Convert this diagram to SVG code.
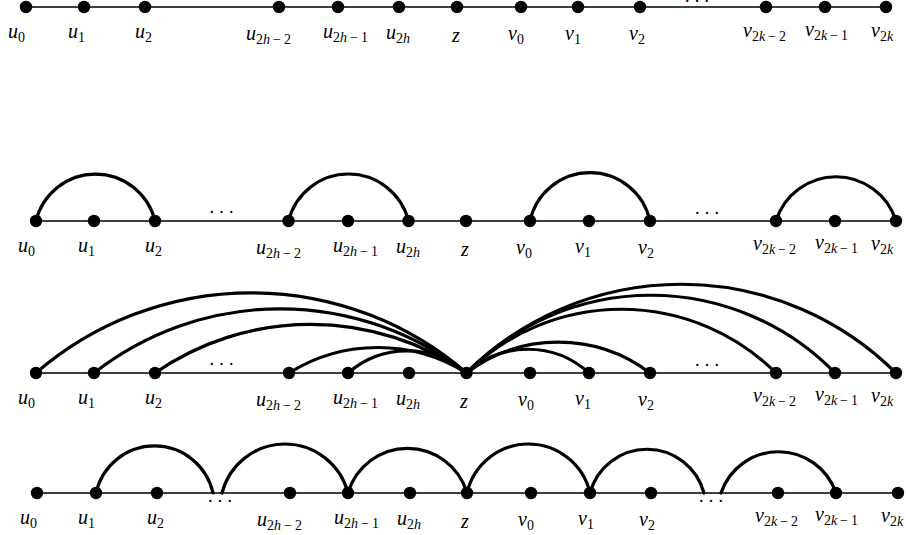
<svg xmlns="http://www.w3.org/2000/svg" width="906" height="535" viewBox="0 0 906 535">
<style>
.base{stroke:#000;stroke-width:1.6;fill:none}
.arc{stroke:#000;stroke-width:3.2;fill:none;stroke-linecap:round}
circle{fill:#000}
.l{font-family:"Liberation Serif",serif;font-size:20px;font-style:italic;fill:#000}
.s{font-size:14px;font-style:normal}
.si{font-size:14px;font-style:italic}
.d{font-family:"Liberation Serif",serif;font-size:18px;letter-spacing:5.2px;fill:#000}
</style>
<rect width="906" height="535" fill="#fff"/>
<g id="connectors">
<line class="base" x1="26" y1="7" x2="886" y2="7"/>
<line class="base" x1="36" y1="221" x2="896" y2="221"/>
<line class="base" x1="36" y1="373" x2="896" y2="373"/>
<line class="base" x1="37" y1="493" x2="898" y2="493"/>
<path class="arc" d="M36 221 A61.2 61.2 0 0 1 155 221"/>
<path class="arc" d="M288.5 221 A61.8 61.8 0 0 1 408.5 221"/>
<path class="arc" d="M530 221 A61.4 61.4 0 0 1 650 221"/>
<path class="arc" d="M776 221 A62.8 62.8 0 0 1 896 221"/>
<path class="arc" d="M36 373 A328.9 328.9 0 0 1 466.5 373"/>
<path class="arc" d="M94 373 A302.3 302.3 0 0 1 466.5 373"/>
<path class="arc" d="M155 373 A273.5 273.5 0 0 1 466.5 373"/>
<path class="arc" d="M289 373 A167.2 167.2 0 0 1 466.5 373"/>
<path class="arc" d="M348 373 A90.1 90.1 0 0 1 466.5 373"/>
<path class="arc" d="M466.5 373 A90.8 90.8 0 0 1 589 373"/>
<path class="arc" d="M466.5 373 A152 152 0 0 1 650 373"/>
<path class="arc" d="M466.5 373 A219.7 219.7 0 0 1 776 373"/>
<path class="arc" d="M466.5 373 A257.2 257.2 0 0 1 835 373"/>
<path class="arc" d="M466.5 373 A304.2 304.2 0 0 1 896 373"/>
<path class="arc" d="M96 493 A59.9 59.9 0 0 1 213 493"/>
<path class="arc" d="M222 493 A65 65 0 0 1 348 493"/>
<path class="arc" d="M348 493 A62 62 0 0 1 467 493"/>
<path class="arc" d="M467 493 A63.1 63.1 0 0 1 590 493"/>
<path class="arc" d="M590 493 A59 59 0 0 1 704 493"/>
<path class="arc" d="M721 493 A60.7 60.7 0 0 1 836 493"/>
</g>
<g id="ellipses">
<text class="d" x="685" y="1.5">...</text>
<text class="d" x="209.5" y="213">...</text>
<text class="d" x="695" y="213.5">...</text>
<text class="d" x="209.5" y="364.5">...</text>
<text class="d" x="695" y="366">...</text>
<text class="d" x="208" y="502">...</text>
<text class="d" x="699" y="502">...</text>
</g>
<!-- Row 1 -->
<g id="r1-u0"><circle cx="26" cy="7" r="6.2"/><text class="l" x="8" y="38">u<tspan class="s" dy="4">0</tspan></text></g>
<g id="r1-u1"><circle cx="84" cy="7" r="6.2"/><text class="l" x="68" y="38">u<tspan class="s" dy="4">1</tspan></text></g>
<g id="r1-u2"><circle cx="145" cy="7" r="6.2"/><text class="l" x="135" y="38">u<tspan class="s" dy="4">2</tspan></text></g>
<g id="r1-u2h-2"><circle cx="279" cy="7" r="6.2"/><text class="l" x="246" y="40">u<tspan class="s" dy="4">2</tspan><tspan class="si">h</tspan><tspan class="s" dx="3">−</tspan><tspan class="s" dx="3">2</tspan></text></g>
<g id="r1-u2h-1"><circle cx="338" cy="7" r="6.2"/><text class="l" x="323" y="38">u<tspan class="s" dy="4">2</tspan><tspan class="si">h</tspan><tspan class="s" dx="3">−</tspan><tspan class="s" dx="3">1</tspan></text></g>
<g id="r1-u2h"><circle cx="399" cy="7" r="6.2"/><text class="l" x="386" y="39">u<tspan class="s" dy="4">2</tspan><tspan class="si">h</tspan></text></g>
<g id="r1-z"><circle cx="457" cy="7" r="6.2"/><text class="l" x="452" y="42">z</text></g>
<g id="r1-v0"><circle cx="521" cy="7" r="6.2"/><text class="l" x="508" y="40">v<tspan class="s" dy="4">0</tspan></text></g>
<g id="r1-v1"><circle cx="578" cy="7" r="6.2"/><text class="l" x="565" y="40">v<tspan class="s" dy="4">1</tspan></text></g>
<g id="r1-v2"><circle cx="640" cy="7" r="6.2"/><text class="l" x="629" y="40">v<tspan class="s" dy="4">2</tspan></text></g>
<g id="r1-v2k-2"><circle cx="766" cy="7" r="6.2"/><text class="l" x="743" y="37">v<tspan class="s" dy="4">2</tspan><tspan class="si">k</tspan><tspan class="s" dx="3">−</tspan><tspan class="s" dx="3">2</tspan></text></g>
<g id="r1-v2k-1"><circle cx="825" cy="7" r="6.2"/><text class="l" x="805" y="36">v<tspan class="s" dy="4">2</tspan><tspan class="si">k</tspan><tspan class="s" dx="3">−</tspan><tspan class="s" dx="3">1</tspan></text></g>
<g id="r1-v2k"><circle cx="886" cy="7" r="6.2"/><text class="l" x="871" y="37">v<tspan class="s" dy="4">2</tspan><tspan class="si">k</tspan></text></g>
<!-- Row 2 -->
<g id="r2-u0"><circle cx="36" cy="221" r="6.2"/><text class="l" x="18" y="252">u<tspan class="s" dy="4">0</tspan></text></g>
<g id="r2-u1"><circle cx="94" cy="221" r="6.2"/><text class="l" x="78" y="252">u<tspan class="s" dy="4">1</tspan></text></g>
<g id="r2-u2"><circle cx="155" cy="221" r="6.2"/><text class="l" x="145" y="252">u<tspan class="s" dy="4">2</tspan></text></g>
<g id="r2-u2h-2"><circle cx="288.5" cy="221" r="6.2"/><text class="l" x="256" y="254">u<tspan class="s" dy="4">2</tspan><tspan class="si">h</tspan><tspan class="s" dx="3">−</tspan><tspan class="s" dx="3">2</tspan></text></g>
<g id="r2-u2h-1"><circle cx="348" cy="221" r="6.2"/><text class="l" x="333" y="252">u<tspan class="s" dy="4">2</tspan><tspan class="si">h</tspan><tspan class="s" dx="3">−</tspan><tspan class="s" dx="3">1</tspan></text></g>
<g id="r2-u2h"><circle cx="408.5" cy="221" r="6.2"/><text class="l" x="396" y="253">u<tspan class="s" dy="4">2</tspan><tspan class="si">h</tspan></text></g>
<g id="r2-z"><circle cx="466" cy="221" r="6.2"/><text class="l" x="461" y="256">z</text></g>
<g id="r2-v0"><circle cx="530" cy="221" r="6.2"/><text class="l" x="516" y="254">v<tspan class="s" dy="4">0</tspan></text></g>
<g id="r2-v1"><circle cx="589" cy="221" r="6.2"/><text class="l" x="575" y="253">v<tspan class="s" dy="4">1</tspan></text></g>
<g id="r2-v2"><circle cx="650" cy="221" r="6.2"/><text class="l" x="638" y="254">v<tspan class="s" dy="4">2</tspan></text></g>
<g id="r2-v2k-2"><circle cx="776" cy="221" r="6.2"/><text class="l" x="753" y="250">v<tspan class="s" dy="4">2</tspan><tspan class="si">k</tspan><tspan class="s" dx="3">−</tspan><tspan class="s" dx="3">2</tspan></text></g>
<g id="r2-v2k-1"><circle cx="835" cy="221" r="6.2"/><text class="l" x="815" y="249">v<tspan class="s" dy="4">2</tspan><tspan class="si">k</tspan><tspan class="s" dx="3">−</tspan><tspan class="s" dx="3">1</tspan></text></g>
<g id="r2-v2k"><circle cx="896" cy="221" r="6.2"/><text class="l" x="871" y="250">v<tspan class="s" dy="4">2</tspan><tspan class="si">k</tspan></text></g>
<!-- Row 3 -->
<g id="r3-u0"><circle cx="36" cy="373" r="6.2"/><text class="l" x="18" y="404">u<tspan class="s" dy="4">0</tspan></text></g>
<g id="r3-u1"><circle cx="94" cy="373" r="6.2"/><text class="l" x="78" y="404">u<tspan class="s" dy="4">1</tspan></text></g>
<g id="r3-u2"><circle cx="155" cy="373" r="6.2"/><text class="l" x="145" y="404">u<tspan class="s" dy="4">2</tspan></text></g>
<g id="r3-u2h-2"><circle cx="289" cy="373" r="6.2"/><text class="l" x="256" y="406">u<tspan class="s" dy="4">2</tspan><tspan class="si">h</tspan><tspan class="s" dx="3">−</tspan><tspan class="s" dx="3">2</tspan></text></g>
<g id="r3-u2h-1"><circle cx="348" cy="373" r="6.2"/><text class="l" x="333" y="404">u<tspan class="s" dy="4">2</tspan><tspan class="si">h</tspan><tspan class="s" dx="3">−</tspan><tspan class="s" dx="3">1</tspan></text></g>
<g id="r3-u2h"><circle cx="409" cy="373" r="6.2"/><text class="l" x="396" y="405">u<tspan class="s" dy="4">2</tspan><tspan class="si">h</tspan></text></g>
<g id="r3-z"><circle cx="466.5" cy="373" r="6.2"/><text class="l" x="460" y="408">z</text></g>
<g id="r3-v0"><circle cx="530" cy="373" r="6.2"/><text class="l" x="518" y="406">v<tspan class="s" dy="4">0</tspan></text></g>
<g id="r3-v1"><circle cx="589" cy="373" r="6.2"/><text class="l" x="575" y="405">v<tspan class="s" dy="4">1</tspan></text></g>
<g id="r3-v2"><circle cx="650" cy="373" r="6.2"/><text class="l" x="638" y="406">v<tspan class="s" dy="4">2</tspan></text></g>
<g id="r3-v2k-2"><circle cx="776" cy="373" r="6.2"/><text class="l" x="753" y="402">v<tspan class="s" dy="4">2</tspan><tspan class="si">k</tspan><tspan class="s" dx="3">−</tspan><tspan class="s" dx="3">2</tspan></text></g>
<g id="r3-v2k-1"><circle cx="835" cy="373" r="6.2"/><text class="l" x="815" y="401">v<tspan class="s" dy="4">2</tspan><tspan class="si">k</tspan><tspan class="s" dx="3">−</tspan><tspan class="s" dx="3">1</tspan></text></g>
<g id="r3-v2k"><circle cx="896" cy="373" r="6.2"/><text class="l" x="871" y="402">v<tspan class="s" dy="4">2</tspan><tspan class="si">k</tspan></text></g>
<!-- Row 4 -->
<g id="r4-u0"><circle cx="37" cy="493" r="6.2"/><text class="l" x="20" y="524">u<tspan class="s" dy="4">0</tspan></text></g>
<g id="r4-u1"><circle cx="96" cy="493" r="6.2"/><text class="l" x="78" y="524">u<tspan class="s" dy="4">1</tspan></text></g>
<g id="r4-u2"><circle cx="157" cy="493" r="6.2"/><text class="l" x="147" y="524">u<tspan class="s" dy="4">2</tspan></text></g>
<g id="r4-u2h-2"><circle cx="290" cy="493" r="6.2"/><text class="l" x="257" y="526">u<tspan class="s" dy="4">2</tspan><tspan class="si">h</tspan><tspan class="s" dx="3">−</tspan><tspan class="s" dx="3">2</tspan></text></g>
<g id="r4-u2h-1"><circle cx="348" cy="493" r="6.2"/><text class="l" x="334" y="524">u<tspan class="s" dy="4">2</tspan><tspan class="si">h</tspan><tspan class="s" dx="3">−</tspan><tspan class="s" dx="3">1</tspan></text></g>
<g id="r4-u2h"><circle cx="410" cy="493" r="6.2"/><text class="l" x="397" y="525">u<tspan class="s" dy="4">2</tspan><tspan class="si">h</tspan></text></g>
<g id="r4-z"><circle cx="467" cy="493" r="6.2"/><text class="l" x="461" y="528">z</text></g>
<g id="r4-v0"><circle cx="531" cy="493" r="6.2"/><text class="l" x="518" y="526">v<tspan class="s" dy="4">0</tspan></text></g>
<g id="r4-v1"><circle cx="590" cy="493" r="6.2"/><text class="l" x="578" y="525">v<tspan class="s" dy="4">1</tspan></text></g>
<g id="r4-v2"><circle cx="651" cy="493" r="6.2"/><text class="l" x="639" y="526">v<tspan class="s" dy="4">2</tspan></text></g>
<g id="r4-v2k-2"><circle cx="778" cy="493" r="6.2"/><text class="l" x="755" y="522">v<tspan class="s" dy="4">2</tspan><tspan class="si">k</tspan><tspan class="s" dx="3">−</tspan><tspan class="s" dx="3">2</tspan></text></g>
<g id="r4-v2k-1"><circle cx="836" cy="493" r="6.2"/><text class="l" x="815" y="521">v<tspan class="s" dy="4">2</tspan><tspan class="si">k</tspan><tspan class="s" dx="3">−</tspan><tspan class="s" dx="3">1</tspan></text></g>
<g id="r4-v2k"><circle cx="898" cy="493" r="6.2"/><text class="l" x="881" y="522">v<tspan class="s" dy="4">2</tspan><tspan class="si">k</tspan></text></g>
</svg>
